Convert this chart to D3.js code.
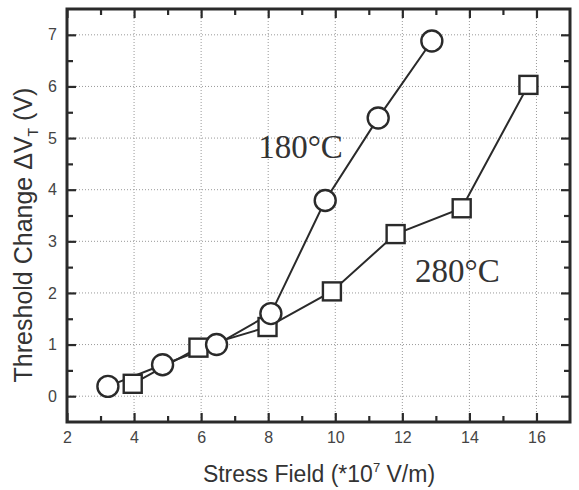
<!DOCTYPE html>
<html><head><meta charset="utf-8">
<script src="https://cdn.jsdelivr.net/npm/d3@7"></script>
<style>body{margin:0;background:#fff}svg{display:block}</style>
</head><body>
<svg id="c" width="579" height="490"></svg>
<script>
const x180 = [3.22, 4.85, 6.46, 8.08, 9.7, 11.28, 12.88];
const y180 = [0.19, 0.61, 1.0, 1.6, 3.79, 5.39, 6.88];
const x280 = [3.96, 5.92, 7.98, 9.9, 11.8, 13.77, 15.76];
const y280 = [0.24, 0.94, 1.34, 2.03, 3.14, 3.64, 6.03];
const xTicks = [2, 4, 6, 8, 10, 12, 14, 16];
const yTicks = [0, 1, 2, 3, 4, 5, 6, 7];
const labels = [{text: "180°C", x: 7.7, y: 4.62}, {text: "280°C", x: 12.38, y: 2.21}];

const svg = d3.select("#c");
const L = 67, R = 570, T = 9, B = 422;
const xs = d3.scaleLinear().domain([2, 17]).range([L, R]);
const ys = d3.scaleLinear().domain([-0.5, 7.5]).range([B, T]);
const ink = "#2a2a2a";

// grid
const g = svg.append("g");
xTicks.filter(v => v > 2).forEach(v => g.append("line")
  .attr("x1", xs(v)).attr("x2", xs(v)).attr("y1", T).attr("y2", B)
  .attr("stroke", "#999").attr("stroke-width", 1).attr("stroke-dasharray", "1,2"));
yTicks.forEach(v => g.append("line")
  .attr("y1", ys(v)).attr("y2", ys(v)).attr("x1", L).attr("x2", R)
  .attr("stroke", "#999").attr("stroke-width", 1).attr("stroke-dasharray", "1,2"));

// axes with inward ticks
const minorX = d3.range(3, 17, 2);
const minorY = [0.5, 1.5, 2.5, 3.5, 4.5, 5.5, 6.5];
function axisPair(axisFn, scale, ticks, len, transform, fmt) {
  return svg.append("g").attr("transform", transform)
    .call(axisFn(scale).tickValues(ticks).tickSizeInner(len).tickSizeOuter(0).tickFormat(fmt));
}
const none = () => "";
const fmt = d3.format("d");
const ax = [
  axisPair(d3.axisBottom, xs, xTicks, -9, `translate(0,${B})`, fmt),
  axisPair(d3.axisBottom, xs, minorX, -6, `translate(0,${B})`, none),
  axisPair(d3.axisTop, xs, xTicks, -9, `translate(0,${T})`, none),
  axisPair(d3.axisTop, xs, minorX, -6, `translate(0,${T})`, none),
  axisPair(d3.axisLeft, ys, yTicks, -9, `translate(${L},0)`, fmt),
  axisPair(d3.axisLeft, ys, minorY, -6, `translate(${L},0)`, none),
  axisPair(d3.axisRight, ys, yTicks, -9, `translate(${R},0)`, none),
  axisPair(d3.axisRight, ys, minorY, -6, `translate(${R},0)`, none)
];
ax.forEach(a => {
  a.select(".domain").remove();
  a.selectAll(".tick line").attr("stroke", ink).attr("stroke-width", 2.2);
  a.selectAll(".tick text").attr("fill", "#444").attr("font-family", "Liberation Sans, Arial, sans-serif").attr("font-size", 16);
});
ax[0].selectAll(".tick text").attr("y", 10);
ax[4].selectAll(".tick text").attr("x", -10);

svg.append("rect").attr("x", L).attr("y", T).attr("width", R - L).attr("height", B - T)
  .attr("fill", "none").attr("stroke", ink).attr("stroke-width", 3);

// series
const line = d3.line().x(d => xs(d[0])).y(d => ys(d[1]));
const d180 = x180.map((v, i) => [v, y180[i]]);
const d280 = x280.map((v, i) => [v, y280[i]]);
svg.append("path").attr("d", line(d280)).attr("fill", "none").attr("stroke", ink).attr("stroke-width", 2);
svg.append("path").attr("d", line(d180)).attr("fill", "none").attr("stroke", ink).attr("stroke-width", 2);
const sq = 18;
svg.selectAll(".sq").data(d280).join("rect")
  .attr("x", d => xs(d[0]) - sq / 2).attr("y", d => ys(d[1]) - sq / 2)
  .attr("width", sq).attr("height", sq)
  .attr("fill", "#fff").attr("stroke", ink).attr("stroke-width", 2.4);
svg.selectAll(".ci").data(d180).join("circle")
  .attr("cx", d => xs(d[0])).attr("cy", d => ys(d[1])).attr("r", 10.5)
  .attr("fill", "#fff").attr("stroke", ink).attr("stroke-width", 2.4);

// labels
labels.forEach(l => svg.append("text").attr("x", xs(l.x)).attr("y", ys(l.y))
  .attr("font-family", "Liberation Serif, Times New Roman, serif").attr("font-size", 33)
  .attr("fill", "#333").text(l.text));

// axis titles
const xt = svg.append("text").attr("x", 319).attr("y", 482).attr("text-anchor", "middle")
  .attr("font-family", "Liberation Sans, Arial, sans-serif").attr("font-size", 23).attr("fill", "#333");
xt.append("tspan").text("Stress Field (*10");
xt.append("tspan").attr("dy", -10).attr("font-size", 13).text("7");
xt.append("tspan").attr("dy", 10).text(" V/m)");

const yt = svg.append("text").attr("transform", "translate(32,235) rotate(-90)").attr("text-anchor", "middle")
  .attr("font-family", "Liberation Sans, Arial, sans-serif").attr("font-size", 25).attr("fill", "#333");
yt.append("tspan").text("Threshold Change ΔV");
yt.append("tspan").attr("dy", 6).attr("font-size", 14).text("T");
yt.append("tspan").attr("dy", -6).text(" (V)");
</script>
</body></html>
